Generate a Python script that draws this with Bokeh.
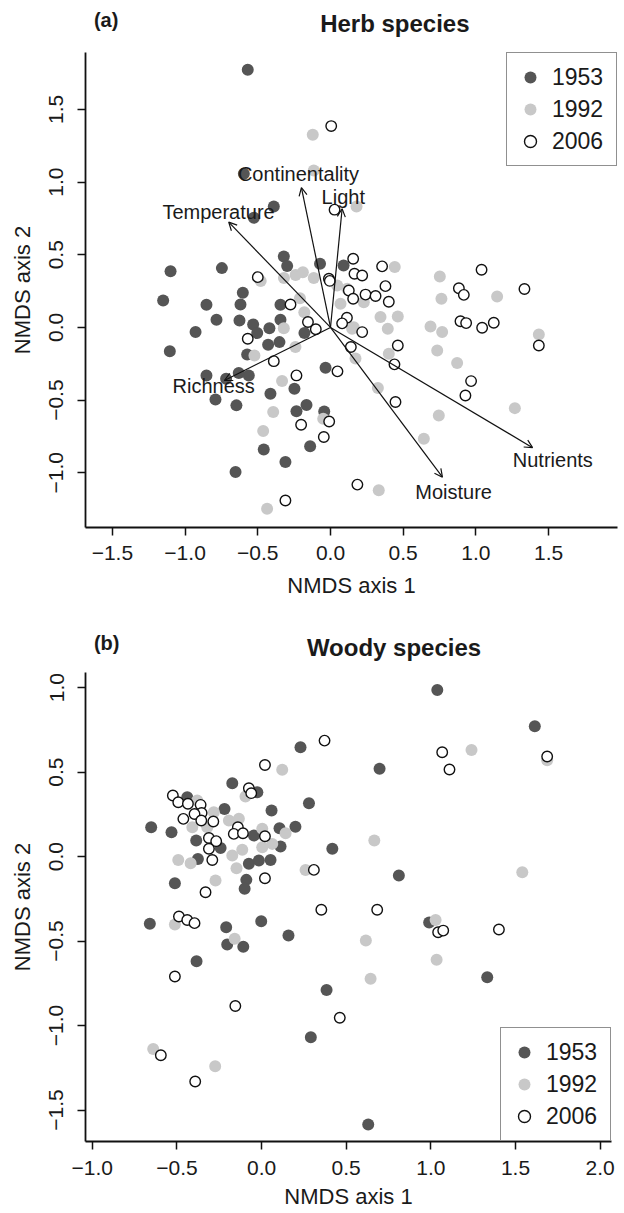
from bokeh.plotting import figure
from bokeh.models import (Range1d, FixedTicker, Arrow, OpenHead, Legend,
                          LegendItem, ColumnDataSource, CustomJSTickFormatter)
from bokeh.layouts import column
from bokeh.embed import file_html
from bokeh.resources import INLINE
from bokeh.core.properties import value

FONT = "Liberation Sans"
DARK = "#555555"
LIGHT = "#c8c8c8"
TXT = "#1a1a1a"
AX = "#111111"

years = ["1953", "1992", "2006"]

# ---------------- (a) Herb species: NMDS site scores ----------------
herb_1953_x = [-0.569, -0.596, -0.39, -0.527, -0.321, -0.298, -0.072, 0.09, -1.10, -0.747,
               -0.603, -1.151, -0.853, -0.619, -0.344, -0.784, -0.626, -0.532, -0.344, -0.928,
               -0.504, -0.42, -0.179, -0.429, -0.351, -1.105, -0.573, -0.034, -0.853, -0.718,
               -0.631, -0.562, -0.248, -0.413, -0.791, -0.647, -0.165, -0.234, -0.043, -0.459,
               -0.14, -0.31, -0.653]
herb_1953_y = [1.772, 1.057, 0.832, 0.754, 0.488, 0.422, 0.438, 0.426, 0.387, 0.408,
               0.239, 0.186, 0.156, 0.158, 0.156, 0.053, 0.048, 0.021, 0.053, -0.032,
               -0.039, -0.005, -0.039, -0.119, -0.101, -0.163, -0.186, -0.277, -0.33, -0.353,
               -0.314, -0.33, -0.422, -0.456, -0.495, -0.536, -0.534, -0.576, -0.578, -0.839,
               -0.817, -0.926, -0.995]

herb_1992_x = [-0.122, -0.115, 0.179, -0.32, -0.24, -0.19, -0.115, 0.442, -0.48, 0.752,
               0.763, 1.146, -0.321, -0.241, -0.523, -0.18, -0.21, 0.069, 0.16, 0.172,
               -0.333, -0.394, -0.05, -0.463, 0.332, -0.436, 0.344, 0.463, 0.394, 0.149,
               0.401, 0.688, 0.768, 0.734, 0.871, 1.433, 0.326, 0.745, 1.268, 0.642,
               0.046, 0.115, 0.229]
herb_1992_y = [1.325, 1.08, 0.832, 0.34, 0.36, 0.38, 0.34, 0.415, 0.32, 0.351,
               0.197, 0.213, -0.005, -0.135, -0.193, 0.105, 0.2, 0.163, 0.002, -0.213,
               -0.369, -0.582, -0.628, -0.713, -1.119, -1.247, 0.071, 0.076, -0.009, -0.009,
               -0.181, 0.007, -0.032, -0.158, -0.245, -0.048, -0.417, -0.605, -0.555, -0.766,
               0.289, 0.266, 0.174]

herb_2006_x = [0.005, 0.028, 0.156, 0.165, 0.218, -0.011, -0.005, 0.355, -0.5, 0.378,
               1.039, 0.883, 0.917, 1.334, 0.126, 0.156, 0.241, 0.31, 0.401, -0.275,
               0.113, 0.08, 0.218, -0.155, -0.101, -0.569, 0.14, -0.39, 0.048, -0.234,
               0.463, 0.44, 0.894, 0.933, 1.043, 1.123, 1.433, 0.967, 0.928, 0.447,
               -0.009, -0.202, -0.046, 0.185, -0.31]
herb_2006_y = [1.385, 0.81, 0.472, 0.369, 0.357, 0.335, 0.32, 0.42, 0.346, 0.284,
               0.397, 0.27, 0.224, 0.264, 0.254, 0.197, 0.226, 0.216, 0.177, 0.158,
               0.067, 0.028, -0.032, 0.037, -0.012, -0.078, -0.135, -0.232, -0.302, -0.33,
               -0.124, -0.254, 0.043, 0.03, -0.002, 0.032, -0.124, -0.369, -0.468, -0.513,
               -0.647, -0.669, -0.754, -1.081, -1.19]

# fitted environmental vectors (biplot arrows)
herb_vec_names = ["Temperature", "Continentality", "Light", "Richness", "Moisture", "Nutrients"]
herb_vec_x = [-0.70, -0.20, 0.08, -0.73, 0.77, 1.39]
herb_vec_y = [0.724, 0.961, 0.816, -0.365, -1.03, -0.827]

# ---------------- (b) Woody species: NMDS site scores ----------------
woody_1953_x = [0.23, -0.173, -0.025, 0.28, 0.059, -0.219, -0.439, -0.652, -0.532, -0.386,
                -0.242, -0.376, -0.075, -0.016, 0.053, 0.112, 0.106, 0.2, -0.045, 0.418,
                -0.512, -0.09, -0.1, 0.697, 1.038, 1.614, 0.811, 0.99, -0.66, -0.209,
                -0.203, -0.108, -0.002, 0.159, -0.384, 0.384, 0.291, 1.333, 0.63]
woody_1953_y = [0.647, 0.434, 0.38, 0.316, 0.272, 0.282, 0.351, 0.173, 0.144, 0.095,
                0.051, -0.014, -0.043, -0.024, -0.02, 0.059, 0.167, 0.177, 0.124, 0.046,
                -0.158, -0.138, -0.191, 0.519, 0.986, 0.771, -0.112, -0.39, -0.398, -0.419,
                -0.521, -0.533, -0.383, -0.467, -0.619, -0.789, -1.069, -0.714, -1.586]

woody_1992_x = [0.122, -0.095, -0.38, -0.409, -0.321, -0.282, -0.193, -0.134, 0.004, -0.114,
                0.004, 0.063, 0.142, -0.173, -0.148, -0.492, -0.419, -0.272, 0.26, 0.666,
                1.24, 1.687, 1.54, 1.028, 1.034, -0.512, -0.159, 0.616, 0.644, -0.64,
                -0.274]
woody_1992_y = [0.513, 0.355, 0.331, 0.173, 0.173, 0.262, 0.213, 0.223, 0.164, 0.04,
                0.055, 0.075, 0.138, 0.006, -0.069, -0.02, -0.04, -0.142, -0.079, 0.095,
                0.631, 0.57, -0.093, -0.375, -0.611, -0.402, -0.487, -0.497, -0.723, -1.138,
                -1.241]

woody_2006_x = [0.372, 0.02, -0.075, -0.061, -0.524, -0.492, -0.435, -0.36, -0.354, -0.396,
                -0.462, -0.356, -0.285, -0.311, -0.268, -0.311, -0.291, -0.14, -0.164, -0.11,
                0.02, 0.02, 0.309, -0.331, 0.353, 0.683, 1.067, 1.11, 1.687, -0.488,
                -0.439, -0.396, 1.043, 1.073, 1.402, -0.512, -0.155, 0.462, -0.595, -0.392]
woody_2006_y = [0.686, 0.542, 0.404, 0.375, 0.361, 0.321, 0.312, 0.306, 0.258, 0.252,
                0.223, 0.213, 0.207, 0.11, 0.091, 0.046, -0.02, 0.173, 0.134, 0.138,
                0.12, -0.128, -0.079, -0.211, -0.315, -0.315, 0.617, 0.515, 0.592, -0.355,
                -0.375, -0.394, -0.448, -0.438, -0.432, -0.71, -0.884, -0.954, -1.176, -1.331]

herb_xticks = [-1.5, -1.0, -0.5, 0.0, 0.5, 1.0, 1.5]
herb_yticks = [-1.0, -0.5, 0.0, 0.5, 1.0, 1.5]
woody_xticks = [-1.0, -0.5, 0.0, 0.5, 1.0, 1.5, 2.0]
woody_yticks = [-1.5, -1.0, -0.5, 0.0, 0.5, 1.0]

fmt = CustomJSTickFormatter(code="""
    const s = Math.abs(tick).toFixed(1);
    return (tick < -1e-9 ? '\u2212' : '') + s;
""")

W = 624


def header(h, tag, tag_xy, title, title_xy):
    f = figure(width=W, height=h, x_range=Range1d(0, W), y_range=Range1d(h, 0),
               x_axis_type=None, y_axis_type=None, output_backend="svg",
               toolbar_location=None, min_border=0, title=None)
    f.outline_line_color = None
    f.text(x=[tag_xy[0]], y=[tag_xy[1]], text=[tag], text_font=value(FONT),
           text_font_size="20px", text_font_style="bold", text_color=TXT,
           text_align="left", text_baseline="middle")
    f.text(x=[title_xy[0]], y=[title_xy[1]], text=[title], text_font=value(FONT),
           text_font_size="24px", text_font_style="bold", text_color=TXT,
           text_align="center", text_baseline="middle")
    return f


def make_panel(xr, yr, fw, fh, mb, xticks, yticks, tick_sd, lab_sd):
    p = figure(frame_width=fw, frame_height=fh, title=None,
               min_border_left=mb[0], min_border_right=mb[1],
               min_border_top=mb[2], min_border_bottom=mb[3],
               x_range=Range1d(*xr), y_range=Range1d(*yr),
               output_backend="svg", toolbar_location=None,
               x_axis_label="NMDS axis 1", y_axis_label="NMDS axis 2")
    p.xgrid.visible = False
    p.ygrid.visible = False
    p.outline_line_color = None
    p.background_fill_color = "white"
    p.border_fill_color = "white"
    for ax in (p.xaxis[0], p.yaxis[0]):
        ax.axis_line_width = 1.8
        ax.axis_line_color = AX
        ax.major_tick_line_width = 1.5
        ax.major_tick_line_color = AX
        ax.major_tick_out = 8
        ax.major_tick_in = 0
        ax.minor_tick_line_color = None
        ax.major_label_text_font = FONT
        ax.major_label_text_font_size = "21px"
        ax.major_label_text_color = TXT
        ax.axis_label_text_font = FONT
        ax.axis_label_text_font_size = "22px"
        ax.axis_label_text_font_style = "normal"
        ax.axis_label_text_color = TXT
        ax.formatter = fmt
    p.xaxis[0].ticker = FixedTicker(ticks=xticks)
    p.yaxis[0].ticker = FixedTicker(ticks=yticks)
    p.yaxis[0].major_label_orientation = "vertical"
    p.xaxis[0].major_label_standoff = tick_sd
    p.yaxis[0].major_label_standoff = 14
    p.xaxis[0].axis_label_standoff = lab_sd
    p.yaxis[0].axis_label_standoff = 12
    return p


def add_points(p, xs, ys):
    r1 = p.scatter(xs[0], ys[0], size=12, fill_color=DARK, line_color=None)
    r2 = p.scatter(xs[1], ys[1], size=12, fill_color=LIGHT, line_color=None)
    r3 = p.scatter(xs[2], ys[2], size=10.5, fill_color="white", line_color=AX, line_width=1.4)
    return [r1, r2, r3]


def add_legend(p, rends, loc):
    leg = Legend(items=[LegendItem(label=y, renderers=[r]) for y, r in zip(years, rends)],
                 location=loc, margin=0, padding=8, spacing=0,
                 glyph_width=30, glyph_height=32, label_height=32, label_width=56,
                 label_standoff=7, label_text_font=FONT, label_text_font_size="23px",
                 label_text_color=TXT, border_line_color="#222222", border_line_width=1.3,
                 background_fill_color="white", background_fill_alpha=1.0)
    p.add_layout(leg)


# ---------- panel (a) ----------
ha = header(52, "(a)", (10, 19), "Herb species", (367, 23))
pa = make_panel((-1.685, 1.974), (-1.376, 1.891), 532, 475, (85, 7, 0, 85),
                herb_xticks, herb_yticks, 10, 10)
ra = add_points(pa, [herb_1953_x, herb_1992_x, herb_2006_x],
                [herb_1953_y, herb_1992_y, herb_2006_y])

vec_src = ColumnDataSource(dict(
    x0=[0.0] * len(herb_vec_x), y0=[0.0] * len(herb_vec_y),
    x1=herb_vec_x, y1=herb_vec_y,
    lx=[v * 1.1 for v in herb_vec_x], ly=[v * 1.1 for v in herb_vec_y],
    name=herb_vec_names))
pa.add_layout(Arrow(source=vec_src, x_start="x0", y_start="y0", x_end="x1", y_end="y1",
                    line_color=AX, line_width=1.2,
                    end=OpenHead(size=8, line_width=1.2, line_color=AX)))
pa.text(x="lx", y="ly", text="name", source=vec_src, text_font=value(FONT),
        text_font_size="20px", text_color=TXT, text_align="center", text_baseline="middle")
add_legend(pa, ra, "top_right")

# ---------- panel (b) ----------
hb = header(60, "(b)", (10, 30), "Woody species", (366, 35))
pb = make_panel((-1.040, 2.067), (-1.686, 1.089), 526, 469, (85, 13, 0, 71),
                woody_xticks, woody_yticks, 11, 6)
rb = add_points(pb, [woody_1953_x, woody_1992_x, woody_2006_x],
                [woody_1953_y, woody_1992_y, woody_2006_y])
add_legend(pb, rb, "bottom_right")

layout = column(ha, pa, hb, pb, spacing=0)
open("out.html", "w").write(file_html(layout, INLINE))
